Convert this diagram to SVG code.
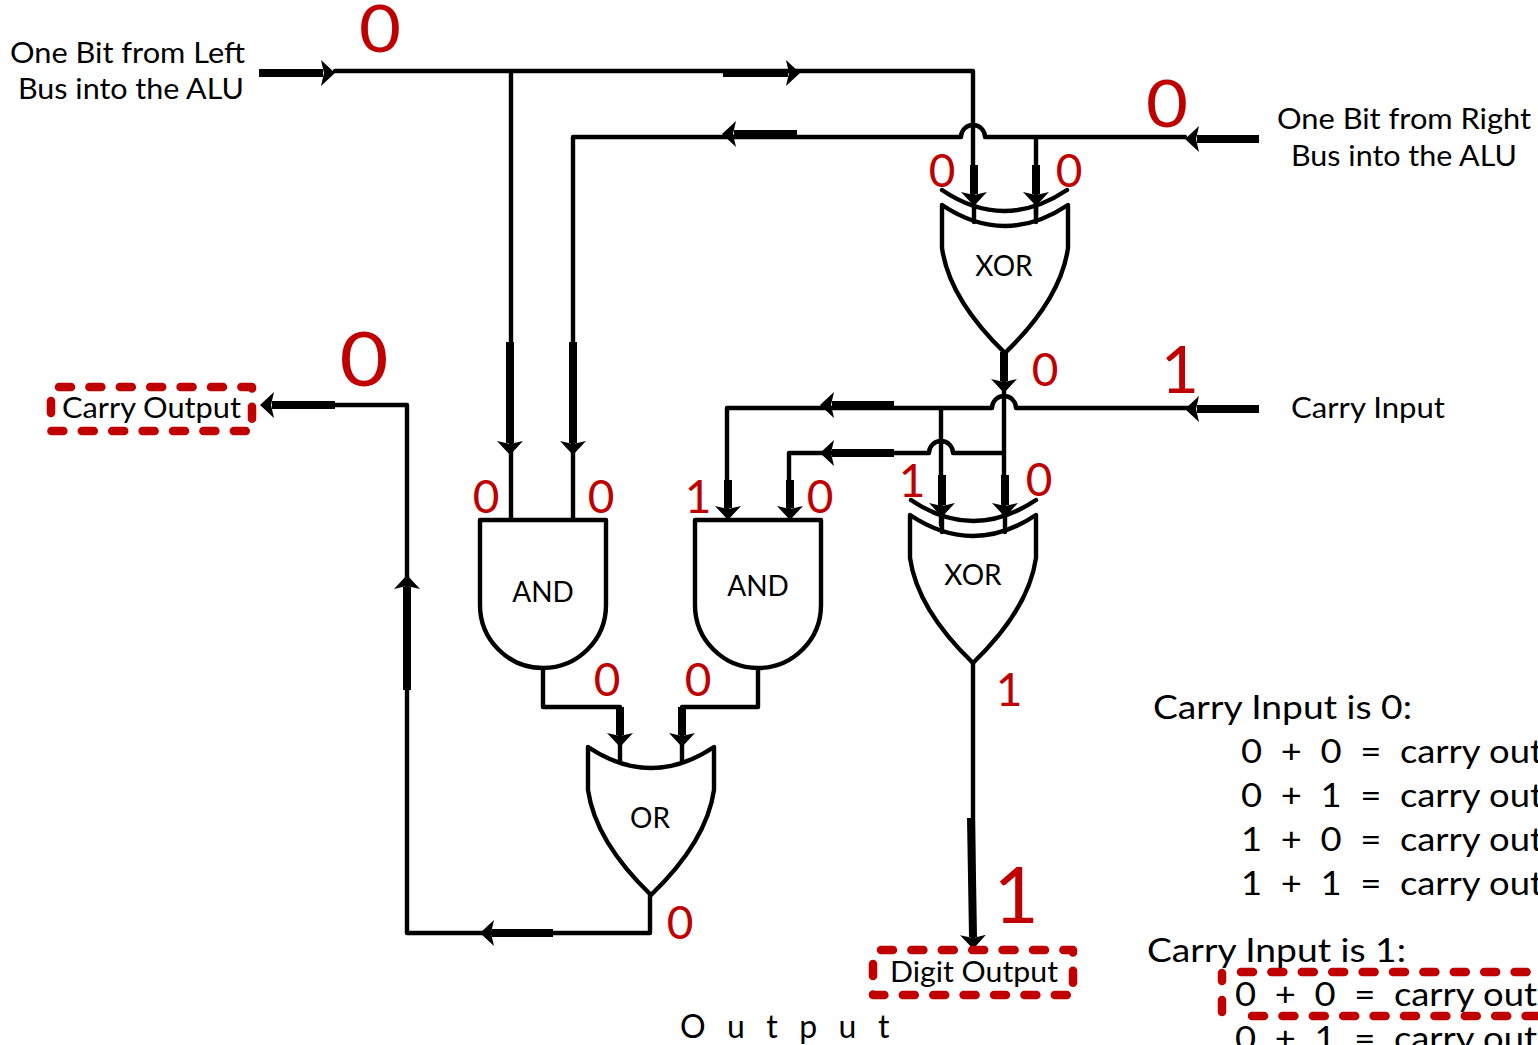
<svg xmlns="http://www.w3.org/2000/svg" width="1538" height="1045" viewBox="0 0 1538 1045">
<style>
text{font-family:"Lato","Open Sans","Liberation Sans",sans-serif;fill:#000}
.l{font-size:28px}
.g{font-size:28px;text-anchor:middle}
.t{font-size:33px}
.r{fill:#c00000;text-anchor:middle}
.s{font-size:46px}
.b{font-size:66px}
.w,.gate{fill:none;stroke:#000;stroke-width:4.4;stroke-linejoin:round;stroke-linecap:round}
.gate{fill:#fff}
.k{fill:none;stroke:#000;stroke-width:8}
.d{fill:none;stroke:#c00000;stroke-width:8.5;stroke-linecap:round;stroke-linejoin:round;stroke-dasharray:12 18.4}
</style>
<defs>
<marker id="a" markerUnits="userSpaceOnUse" markerWidth="18" markerHeight="26" refX="2" refY="13" orient="auto"><path d="M0 0L14 13L0 26L3 13Z" fill="#000"/></marker>
<path id="andg" d="M0 0H126V85A63 63 0 0 1 0 85Z"/>
<path id="org" d="M0 0Q63 42 126 0V43C120 85 90 122 63 148C36 122 6 85 0 43Z"/>
</defs>
<g id="connectors">
<path class="w" d="M335 71H973V205M511 71V520"/>
<path class="w" d="M1185 137H985A12 12 0 0 0 961 137H573V520M1036 137V215"/>
<path class="w" d="M1004 352V396M1190 408H1016A12 12 0 0 0 992 408H727V510M1004 396V515"/>
<path class="w" d="M941 408V525M1004 453H953A12 12 0 0 0 929 453H789V510"/>
<path class="w" d="M543 668V707H620V765M758 668V707H682V765"/>
<path class="w" d="M650 895V933H407V405H335"/>
<path class="w" d="M973 662V945"/>
<path class="k" marker-end="url(#a)" d="M259 73H323"/>
<path class="k" marker-end="url(#a)" d="M723 73H788"/>
<path class="k" marker-end="url(#a)" d="M1259 139H1197"/>
<path class="k" marker-end="url(#a)" d="M797 134H734"/>
<path class="k" marker-end="url(#a)" d="M974 165V194"/>
<path class="k" marker-end="url(#a)" d="M1036 165V194"/>
<path class="k" marker-end="url(#a)" d="M510 342V443"/>
<path class="k" marker-end="url(#a)" d="M573 342V443"/>
<path class="k" marker-end="url(#a)" d="M1004 352V381"/>
<path class="k" marker-end="url(#a)" d="M1259 409H1197"/>
<path class="k" marker-end="url(#a)" d="M894 405H832"/>
<path class="k" marker-end="url(#a)" d="M894 453H832"/>
<path class="k" marker-end="url(#a)" d="M728 480V508"/>
<path class="k" marker-end="url(#a)" d="M790 480V508"/>
<path class="k" marker-end="url(#a)" d="M942 475V505"/>
<path class="k" marker-end="url(#a)" d="M1005 475V505"/>
<path class="k" marker-end="url(#a)" d="M620 707V735"/>
<path class="k" marker-end="url(#a)" d="M682 707V735"/>
<path class="k" marker-end="url(#a)" d="M407 690V587"/>
<path class="k" marker-end="url(#a)" d="M335 405H272"/>
<path class="k" marker-end="url(#a)" d="M553 933H492"/>
<path class="k" marker-end="url(#a)" d="M971 818L973 937"/>
</g>
<g id="xor-top">
<use class="gate" href="#org" x="942" y="205"/>
<path class="w" d="M942 190Q1004 232 1067 190"/>
<path class="w" d="M974 203V222M1036 203V222"/>
<text class="g" x="1004" y="276">XOR</text>
</g>
<g id="xor-bottom">
<use class="gate" href="#org" x="910" y="515"/>
<path class="w" d="M911 500Q973 542 1036 500"/>
<path class="w" d="M942 513V532M1005 513V532"/>
<text class="g" x="973" y="585">XOR</text>
</g>
<g id="and-left"><use class="gate" href="#andg" x="480" y="520"/><text class="g" x="543" y="602">AND</text></g>
<g id="and-right"><use class="gate" href="#andg" x="695" y="520"/><text class="g" x="758" y="596">AND</text></g>
<g id="or-gate"><use class="gate" href="#org" x="588" y="747"/><text class="g" x="650" y="828">OR</text></g>
<g id="left-input"><text class="l" x="10" y="63" textLength="235" lengthAdjust="spacingAndGlyphs">One Bit from Left</text><text class="l" x="18" y="99" textLength="226" lengthAdjust="spacingAndGlyphs">Bus into the ALU</text></g>
<g id="right-input"><text class="l" x="1277" y="129" textLength="254" lengthAdjust="spacingAndGlyphs">One Bit from Right</text><text class="l" x="1291" y="166" textLength="226" lengthAdjust="spacingAndGlyphs">Bus into the ALU</text></g>
<g id="carry-input"><text class="l" x="1291" y="418" textLength="154" lengthAdjust="spacingAndGlyphs">Carry Input</text></g>
<g id="carry-output"><path class="d" d="M59 387H252V431H51V387"/><text class="l" x="62" y="418" textLength="179" lengthAdjust="spacingAndGlyphs">Carry Output</text></g>
<g id="digit-output"><path class="d" d="M881 950H1073V995H873V950"/><text class="l" x="890" y="982" textLength="168" lengthAdjust="spacingAndGlyphs">Digit Output</text></g>
<g id="output-title"><text x="680" y="1038" style="font-size:32px" letter-spacing="21.5">Output</text></g>
<g id="values">
<text class="r b" x="380" y="52" textLength="42" lengthAdjust="spacingAndGlyphs">0</text>
<text class="r b" x="1167" y="127" textLength="42" lengthAdjust="spacingAndGlyphs">0</text>
<text class="r b" x="364" y="386" style="font-size:76px" textLength="49" lengthAdjust="spacingAndGlyphs">0</text>
<text class="r b" x="1180" y="393">1</text>
<text class="r b" x="1016" y="923" style="font-size:78px">1</text>
<text class="r s" x="942" y="187">0</text>
<text class="r s" x="1069" y="187">0</text>
<text class="r s" x="1045" y="386">0</text>
<text class="r s" x="486" y="513">0</text>
<text class="r s" x="601" y="513">0</text>
<text class="r s" x="698" y="513">1</text>
<text class="r s" x="820" y="513">0</text>
<text class="r s" x="912" y="497">1</text>
<text class="r s" x="1039" y="496">0</text>
<text class="r s" x="607" y="696">0</text>
<text class="r s" x="698" y="696">0</text>
<text class="r s" x="1009" y="706">1</text>
<text class="r s" x="680" y="939">0</text>
</g>
<g id="truth-table">
<text class="t" x="1153" y="719" textLength="259" lengthAdjust="spacingAndGlyphs">Carry Input is 0:</text>
<text class="t" x="1241" y="763" xml:space="preserve" textLength="302" lengthAdjust="spacingAndGlyphs">0  +  0  =  carry out</text>
<text class="t" x="1241" y="807" xml:space="preserve" textLength="302" lengthAdjust="spacingAndGlyphs">0  +  1  =  carry out</text>
<text class="t" x="1241" y="851" xml:space="preserve" textLength="302" lengthAdjust="spacingAndGlyphs">1  +  0  =  carry out</text>
<text class="t" x="1241" y="895" xml:space="preserve" textLength="302" lengthAdjust="spacingAndGlyphs">1  +  1  =  carry out</text>
<text class="t" x="1147" y="962" textLength="259" lengthAdjust="spacingAndGlyphs">Carry Input is 1:</text>
<path class="d" d="M1241 972H1560M1222 973V981M1222 1000V1016H1233M1252 1016H1560"/>
<text class="t" x="1235" y="1006" xml:space="preserve" textLength="302" lengthAdjust="spacingAndGlyphs">0  +  0  =  carry out</text>
<text class="t" x="1235" y="1050" xml:space="preserve" textLength="302" lengthAdjust="spacingAndGlyphs">0  +  1  =  carry out</text>
</g>
</svg>
